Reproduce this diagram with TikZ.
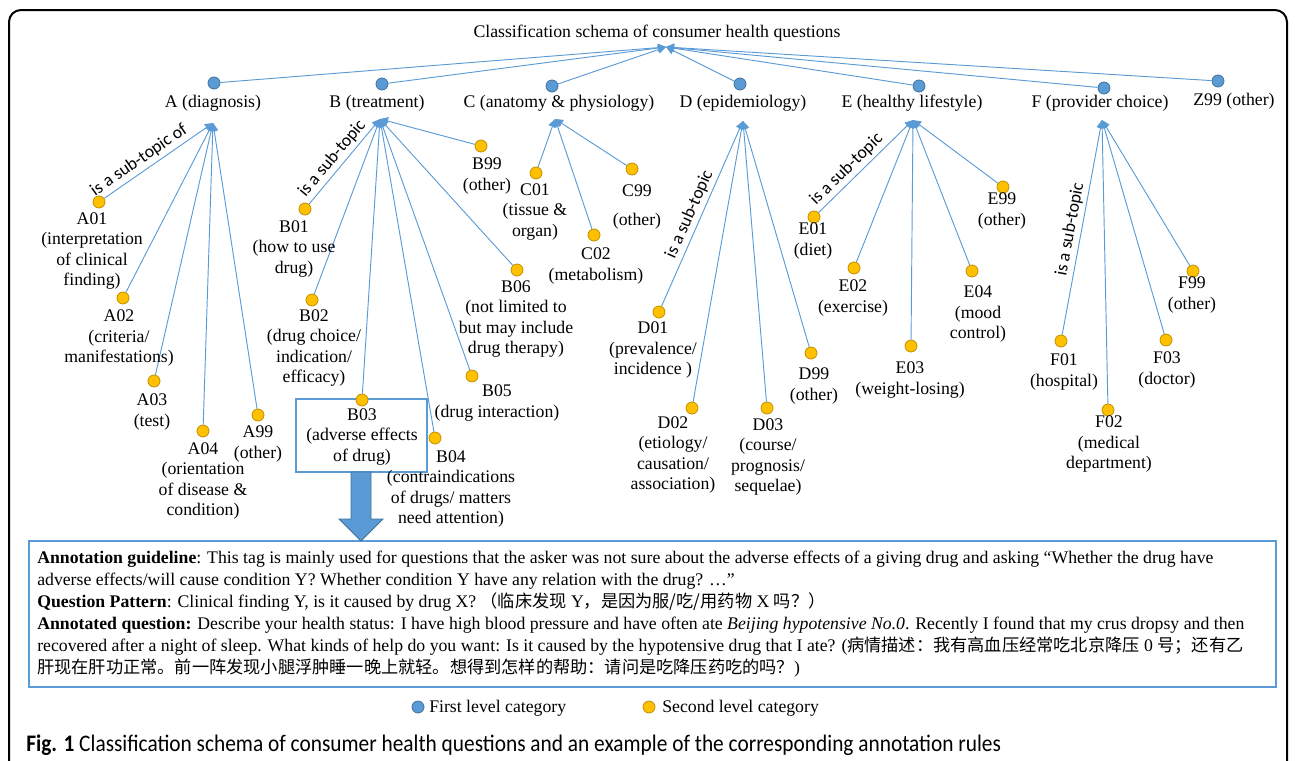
\documentclass[tikz,border=0pt]{standalone}
\usepackage{fontspec}
\setmainfont{Liberation Serif}
\newfontfamily\cjk[Scale=0.97]{Noto Sans CJK SC}
\newfontfamily\carlito{Carlito}
\newfontfamily\capfont[FakeStretch=0.9]{Carlito}
\usetikzlibrary{arrows.meta,fit}
\definecolor{lineblue}{HTML}{5B9BD5}
\definecolor{blueborder}{HTML}{41719C}
\definecolor{catyellow}{HTML}{FFC000}
\definecolor{yellowborder}{HTML}{BF9000}
\tikzset{
  lvlone/.style={circle, draw=blueborder, fill=lineblue, line width=0.6pt, minimum size=9pt, inner sep=0pt},
  lvltwo/.style={circle, draw=yellowborder, fill=catyellow, line width=0.6pt, minimum size=9pt, inner sep=0pt},
  lab/.style={align=center, font=\fontsize{13.3}{15.4}\selectfont, inner sep=0pt},
  conn/.style={draw=lineblue, line width=0.7pt, -{Triangle[length=6pt,width=6pt]}},
  subt/.style={font=\carlito\fontsize{13.3}{15}\selectfont, sloped, above, inner sep=2.5pt},
  ann/.style={anchor=base west, inner sep=0pt, font=\fontsize{13.3}{15}\selectfont},
  boxline/.style={draw=lineblue, line width=1.2pt, inner sep=0pt}
}
\begin{document}
\begin{tikzpicture}[x=0.75pt,y=-0.75pt]
\useasboundingbox (0,0) rectangle (1295,760);
\begin{scope}
\clip (0,0) rectangle (1295,760);
\draw[line width=1.5pt, rounded corners=9pt] (9,10) rectangle (1287,800);
\end{scope}

% root
\node[lab] (root) at (657,33) {Classification schema of consumer health questions};
\coordinate (root-in) at (666,47);

% first level
\node[lvlone] (A) at (214,83) {};
\node[lvlone] (B) at (382,84) {};
\node[lvlone] (C) at (552,86) {};
\node[lvlone] (D) at (740,84) {};
\node[lvlone] (E) at (919,86) {};
\node[lvlone] (F) at (1104,88) {};
\node[lvlone] (Z) at (1218,81) {};
\node[lab] (At) at (213,103) {A (diagnosis)};
\node[lab] (Bt) at (377,103) {B (treatment)};
\node[lab] (Ct) at (559,103) {C (anatomy \& physiology)};
\node[lab] (Dt) at (743,103) {D (epidemiology)};
\node[lab] (Et) at (912,103) {E (healthy lifestyle)};
\node[lab] (Ft) at (1100,103) {F (provider choice)};
\node[lab] (Zt) at (1234,101) {Z99 (other)};
\foreach \n in {A,B,C,D,E,F,Z} \draw[conn] (\n) -- (root-in);

\coordinate (A-in) at (213,123);
\coordinate (B-in) at (380,119);
\coordinate (C-in) at (555,119);
\coordinate (D-in) at (743,121);
\coordinate (E-in) at (913,120);
\coordinate (F-in) at (1102,120);

% B03 box
\node[boxline, fit={(296,399) (427,472)}] (B03box) {};

% second level dots
\node[lvltwo] (A01) at (99,202) {};
\node[lvltwo] (A02) at (123,298) {};
\node[lvltwo] (A03) at (154,381) {};
\node[lvltwo] (A04) at (203,431) {};
\node[lvltwo] (A99) at (258,415) {};
\node[lvltwo] (B01) at (305,209) {};
\node[lvltwo] (B02) at (312,300) {};
\node[lvltwo] (B03) at (362,400) {};
\node[lvltwo] (B04) at (435,438) {};
\node[lvltwo] (B05) at (472,376) {};
\node[lvltwo] (B06) at (517,270) {};
\node[lvltwo] (B99) at (481,146) {};
\node[lvltwo] (C01) at (536,173) {};
\node[lvltwo] (C02) at (594,235) {};
\node[lvltwo] (C99) at (632,169) {};
\node[lvltwo] (D01) at (659,312) {};
\node[lvltwo] (D02) at (692,408) {};
\node[lvltwo] (D03) at (767,408) {};
\node[lvltwo] (D99) at (811,353) {};
\node[lvltwo] (E01) at (814,217) {};
\node[lvltwo] (E02) at (854,268) {};
\node[lvltwo] (E03) at (911,346) {};
\node[lvltwo] (E04) at (972,271) {};
\node[lvltwo] (E99) at (1003,187) {};
\node[lvltwo] (F01) at (1061,341) {};
\node[lvltwo] (F02) at (1108,410) {};
\node[lvltwo] (F03) at (1166,340) {};
\node[lvltwo] (F99) at (1193,271) {};

% connectors
\draw[conn] (A01) -- node[subt, pos=0.38] {is a sub-topic of} (A-in);
\foreach \n in {A02,A03,A04,A99} \draw[conn] (\n) -- (A-in);
\draw[conn] (B01) -- node[subt, pos=0.45] {is a sub-topic} (B-in);
\foreach \n in {B02,B03,B04,B05,B06,B99} \draw[conn] (\n) -- (B-in);
\foreach \n in {C01,C02,C99} \draw[conn] (\n) -- (C-in);
\draw[conn] (D01) -- node[subt, pos=0.47] {is a sub-topic} (D-in);
\foreach \n in {D02,D03,D99} \draw[conn] (\n) -- (D-in);
\draw[conn] (E01) -- node[subt, pos=0.38] {is a sub-topic} (E-in);
\foreach \n in {E02,E03,E04,E99} \draw[conn] (\n) -- (E-in);
\draw[conn] (F01) -- node[subt, pos=0.48] {is a sub-topic} (F-in);
\foreach \n in {F02,F03,F99} \draw[conn] (\n) -- (F-in);

% second level labels
\node[lab] (A01t) at (92,251) {A01\\(interpretation\\of clinical\\finding)};
\node[lab] (A02t) at (119,338) {A02\\(criteria/\\manifestations)};
\node[lab] (A03t) at (152,412) {A03\\(test)};
\node[lab] (A04t) at (203,481) {A04\\(orientation\\of disease \&\\condition)};
\node[lab] (A99t) at (258,444) {A99\\(other)};
\node[lab] (B01t) at (294,249) {B01\\(how to use\\drug)};
\node[lab] (B02t) at (314,348) {B02\\(drug choice/\\indication/\\efficacy)};
\node[lab] (B03t) at (362,437) {B03\\(adverse effects\\of drug)};
\node[lab] (B04t) at (451,489) {B04\\(contraindications\\of drugs/ matters\\need attention)};
\node[lab] (B05t) at (497,403) {B05\\(drug interaction)};
\node[lab] (B06t) at (516,319) {B06\\(not limited to\\but may include\\drug therapy)};
\node[lab] (B99t) at (487,176) {B99\\(other)};
\node[lab] (C01t) at (535,212) {C01\\(tissue \&\\organ)};
\node[lab] (C02t) at (596,266) {C02\\(metabolism)};
\node[lab] (C99t) at (637,207) {C99\\[6pt](other)};
\node[lab] (D01t) at (653,350) {D01\\(prevalence/\\incidence )};
\node[lab] (D02t) at (673,455) {D02\\(etiology/\\causation/\\association)};
\node[lab] (D03t) at (768,457) {D03\\(course/\\prognosis/\\sequelae)};
\node[lab] (D99t) at (814,386) {D99\\(other)};
\node[lab] (E01t) at (813,241) {E01\\(diet)};
\node[lab] (E02t) at (853,298) {E02\\(exercise)};
\node[lab] (E03t) at (910,380) {E03\\(weight-losing)};
\node[lab] (E04t) at (978,314) {E04\\(mood\\control)};
\node[lab] (E99t) at (1002,211) {E99\\(other)};
\node[lab] (F01t) at (1064,372) {F01\\(hospital)};
\node[lab] (F02t) at (1109,444) {F02\\(medical\\department)};
\node[lab] (F03t) at (1167,370) {F03\\(doctor)};
\node[lab] (F99t) at (1192,295) {F99\\(other)};

% annotation box
\node[boxline, fit={(29,541) (1276,687)}] (annbox) {};
\draw[draw=blueborder, fill=lineblue, line width=0.6pt]
  (351,472) -- (371,472) -- (371,519) -- (383,519) -- (361,541) -- (339,519) -- (351,519) -- cycle;

\node[ann] (ann1) at (37,563) {\textbf{Annotation guideline}: This tag is mainly used for questions that the asker was not sure about the adverse effects of a giving drug and asking “Whether the drug have};
\node[ann] (ann2) at (37,585) {adverse effects/will cause condition Y? Whether condition Y have any relation with the drug? …”};
\node[ann] (ann3) at (37,607) {\textbf{Question Pattern}: Clinical finding Y, is it caused by drug X? {\cjk （临床发现}~Y{\cjk ，是因为服/吃/用药物}~X~{\cjk 吗？）}};
\node[ann] (ann4) at (37,629) {\textbf{Annotated question:} Describe your health status: I have high blood pressure and have often ate \textit{Beijing hypotensive No.0}. Recently I found that my crus dropsy and then};
\node[ann] (ann5) at (37,651) {recovered after a night of sleep. What kinds of help do you want: Is it caused by the hypotensive drug that I ate? ({\cjk 病情描述：我有高血压经常吃北京降压}~0~{\cjk 号；还有乙}};
\node[ann] (ann6) at (37,673) {{\cjk 肝现在肝功正常。前一阵发现小腿浮肿睡一晚上就轻。想得到怎样的帮助：请问是吃降压药吃的吗？})};

% legend
\node[lvlone] (leg1) at (418,707) {};
\node[lab, anchor=west] (leg1t) at (429,708) {First level category};
\node[lvltwo] (leg2) at (649,707) {};
\node[lab, anchor=west] (leg2t) at (662,708) {Second level category};

% caption
\node[anchor=west, inner sep=0pt, font=\capfont\fontsize{17.8}{20}\selectfont] (cap) at (26,745) {\textbf{Fig. 1} Classification schema of consumer health questions and an example of the corresponding annotation rules};
\end{tikzpicture}
\end{document}
